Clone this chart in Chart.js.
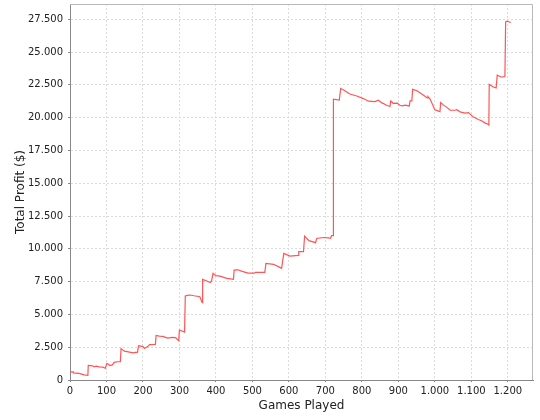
<!DOCTYPE html>
<html>
<head>
<meta charset="utf-8">
<script src="https://cdn.jsdelivr.net/npm/chart.js@4.4.1/dist/chart.umd.min.js"></script>
<style>
  html, body { margin: 0; padding: 0; background: #fff; }
  #wrap { width: 540px; height: 420px; }
</style>
</head>
<body>
<div id="wrap"><canvas id="myChart" width="540" height="420"></canvas></div>
<script>
// games played (x) and running total profit (y)
const games = [0, 9, 9, 25, 39, 49, 50, 62, 66, 72, 80, 90, 97, 101, 110, 116, 121, 130, 138, 140,
  149, 160, 172, 185, 188, 200, 204, 213, 218, 234, 236, 245, 254, 268, 280, 289, 298, 300, 314, 316,
  322, 329, 340, 356, 362, 363, 364, 375, 384, 388, 392, 400, 411, 430, 448, 450, 460, 470, 488, 506,
  508, 534, 537, 558, 571, 580, 586, 603, 626, 627, 640, 643, 655, 673, 676, 694, 708, 714, 717, 722,
  722, 738, 742, 753, 767, 786, 804, 818, 836, 845, 854, 868, 877, 879, 886, 897, 904, 911, 918, 930,
  932, 937, 939, 951, 964, 973, 979, 981, 987, 996, 1000, 1014, 1016, 1023, 1032, 1042, 1055, 1060, 1069, 1083,
  1092, 1105, 1119, 1128, 1137, 1147, 1148, 1149, 1159, 1168, 1171, 1183, 1192, 1194, 1198, 1208];
const profit = [620, 620, 540, 500, 390, 350, 1120, 1080, 1000, 1050, 1000, 980, 900, 1270, 1100, 1150, 1350, 1390, 1400, 2390,
  2200, 2150, 2070, 2120, 2615, 2550, 2400, 2550, 2700, 2720, 3400, 3350, 3330, 3200, 3250, 3230, 3000, 3810, 3650, 6400,
  6450, 6480, 6420, 6350, 5900, 5890, 7670, 7550, 7430, 7550, 8130, 7950, 7920, 7750, 7670, 8380, 8400, 8300, 8150, 8150,
  8200, 8200, 8890, 8820, 8640, 8510, 9650, 9450, 9500, 9780, 9780, 10970, 10620, 10470, 10790, 10860, 10830, 10800, 11000, 11000,
  21410, 21340, 22230, 22050, 21800, 21650, 21450, 21250, 21220, 21320, 21140, 20940, 20850, 21270, 21090, 21100, 20940, 20890, 20950, 20890,
  21270, 21270, 22150, 22050, 21800, 21620, 21500, 21600, 21420, 20840, 20600, 20460, 21150, 20970, 20800, 20560, 20560, 20600, 20440, 20340,
  20380, 20060, 19860, 19760, 19600, 19480, 19440, 22530, 22350, 22270, 23230, 23080, 23150, 27300, 27350, 27250];

// tick values
const xTicks = [0, 100, 200, 300, 400, 500, 600, 700, 800, 900, 1000, 1100, 1200];
const yTicks = [0, 2500, 5000, 7500, 10000, 12500, 15000, 17500, 20000, 22500, 25000, 27500];

const xMax = 1269;
const yMax = 28660;

// 1.200 / 27.500 style labels
function fmt(v) {
  return String(v).replace(/\B(?=(\d{3})+(?!\d))/g, '.');
}

const points = games.map((g, i) => ({ x: g, y: profit[i] }));

// top and right frame of the plot
const frame = {
  id: 'frame',
  beforeDatasetsDraw(chart) {
    const a = chart.chartArea, ctx = chart.ctx;
    ctx.save();
    ctx.strokeStyle = '#b8b8b8';
    ctx.lineWidth = 1;
    ctx.beginPath();
    ctx.moveTo(a.left, a.top + 0.5);
    ctx.lineTo(a.right - 0.5, a.top + 0.5);
    ctx.lineTo(a.right - 0.5, a.bottom);
    ctx.stroke();
    ctx.restore();
  }
};

const tickFont = { family: 'DejaVu Sans', size: 10 };
const titleFont = { family: 'DejaVu Sans', size: 12 };

new Chart(document.getElementById('myChart'), {
  type: 'line',
  data: {
    datasets: [{
      data: points,
      borderColor: '#ff5555',
      borderWidth: 1.2,
      pointRadius: 0,
      fill: false,
      tension: 0
    }]
  },
  options: {
    responsive: false,
    animation: false,
    layout: { padding: { top: 4, right: 7, left: 0, bottom: 0 } },
    plugins: { legend: { display: false }, tooltip: { enabled: false } },
    scales: {
      x: {
        type: 'linear',
        min: 0,
        max: xMax,
        afterBuildTicks: s => { s.ticks = xTicks.map(v => ({ value: v })); },
        afterFit: s => { s.height = 40; s.paddingLeft = 0; s.paddingRight = 0; },
        ticks: {
          maxRotation: 0,
          autoSkip: false,
          padding: 3,
          color: '#222',
          font: tickFont,
          callback: v => fmt(v)
        },
        grid: { color: '#dcdcdc', tickColor: '#888', tickLength: 2, tickBorderDash: [] },
        border: { color: '#888', width: 1, dash: [2, 2] },
        title: { display: true, text: 'Games Played', color: '#222', font: titleFont, padding: { top: 0, bottom: 7 } }
      },
      y: {
        type: 'linear',
        min: 0,
        max: yMax,
        afterBuildTicks: s => { s.ticks = yTicks.map(v => ({ value: v })); },
        afterFit: s => { s.width = 70; s.paddingTop = 0; s.paddingBottom = 0; },
        ticks: {
          autoSkip: false,
          padding: 5,
          color: '#222',
          font: tickFont,
          callback: v => fmt(v)
        },
        grid: { color: '#dcdcdc', tickColor: '#888', tickLength: 2, tickBorderDash: [] },
        border: { color: '#888', width: 1, dash: [2, 2] },
        title: { display: true, text: 'Total Profit ($)', color: '#222', font: titleFont, padding: { top: 14, bottom: 0 } }
      }
    }
  },
  plugins: [frame]
});
</script>
</body>
</html>
